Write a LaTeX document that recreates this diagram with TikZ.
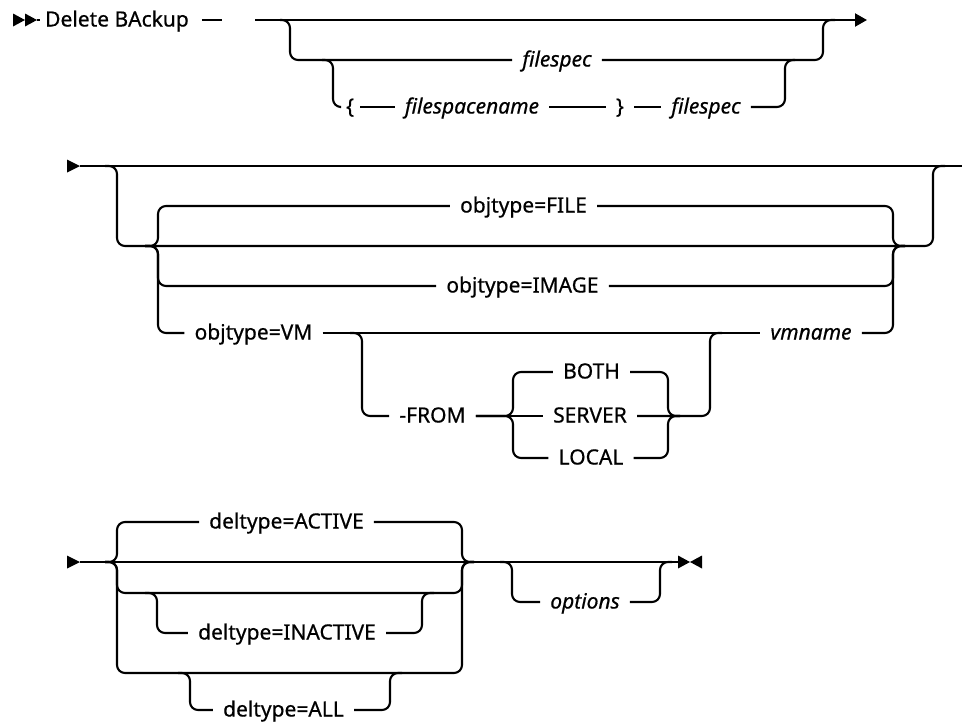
\documentclass[tikz,border=0pt]{standalone}
\usepackage{fontspec}
\setmainfont{Noto Sans}[FakeBold=0.6]
\usetikzlibrary{arrows.meta}

\tikzset{
	rail/.style={black, line width=2.1pt, rounded corners=8pt},
	kw/.style={inner xsep=10pt, inner ysep=0pt, text height=15pt, text depth=2pt, font=\fontsize{21}{25}\selectfont},
	var/.style={kw, font=\fontsize{21}{25}\selectfont\itshape},
}

\begin{document}
\begin{tikzpicture}[x=1pt,y=-1pt]
	\useasboundingbox (0,0) rectangle (962,721);
	% first line
	\fill[black] (13,13.5) -- (25,20) -- (13,26.5) -- cycle;
	\fill[black] (25,13.5) -- (37,20) -- (25,26.5) -- cycle;
	\node[kw, inner xsep=0pt] (delete) at (117,20) {Delete BAckup};
	\draw[rail] (37,20) -- ([xshift=-5pt]delete.west);
	\draw[rail] ([xshift=13pt]delete.east) -- ++(20,0);
	\draw[rail, -{Triangle[length=12pt,width=13pt]}] (255,20) -- (867,20);
	\node[var] (fs1) at (557,60) {filespec};
	\node[kw, inner xsep=6pt] (lbrace) at (350,107) {\{};
	\node[var] (fsname) at (472,107) {filespacename};
	\node[kw] (rbrace) at (620,107) {\}};
	\node[var] (fs2) at (706,107) {filespec};
	\draw[rail] (280,20) -| (290,60) -- (fs1.west);
	\draw[rail] (fs1.east) -| (823,20) -- (835,20);
	\draw[rail] (322,60) -| (333,107) -- (lbrace.west);
	\draw[rail] (lbrace.east) -- (fsname.west);
	\draw[rail] (fsname.east) -- (rbrace.west);
	\draw[rail] (rbrace.east) -- (fs2.west);
	\draw[rail] (fs2.east) -| (785,60) -- (795,60);
	% second line
	\fill[black] (67,159.5) -- (80,166) -- (67,172.5) -- cycle;
	\draw[rail] (80,166) -- (962,166);
	\draw[rail] (105,166) -| (117,246) -| (933,166) -- (945,166);
	\node[kw] (file) at (523.5,206) {objtype=FILE};
	\node[kw] (image) at (522.5,286) {objtype=IMAGE};
	\node[kw] (vm) at (253.5,333) {objtype=VM};
	\node[var] (vmname) at (811,333) {vmname};
	\draw[rail] (145,246) -| (158,206) -- (file.west);
	\draw[rail] (145,246) -| (158,286) -- (image.west);
	\draw[rail] (145,246) -| (158,333) -- (vm.west);
	\draw[rail] (file.east) -| (893,246) -- (905,246);
	\draw[rail] (image.east) -| (893,246) -- (905,246);
	\draw[rail] (vmname.east) -| (893,246) -- (905,246);
	\draw[rail] (vm.east) -- (vmname.west);
	\node[kw] (from) at (432.5,416) {-FROM};
	\node[kw] (both) at (591.5,372) {BOTH};
	\node[kw] (server) at (590,416) {SERVER};
	\node[kw] (local) at (591,458) {LOCAL};
	\draw[rail] (350,333) -| (362,416) -- (from.west);
	\draw[rail] (from.east) -- (server.west);
	\draw[rail] (from.east) -| (513,372) -- (both.west);
	\draw[rail] (from.east) -| (513,458) -- (local.west);
	\draw[rail] (both.east) -| (668,416) -- (680,416);
	\draw[rail] (local.east) -| (668,416) -- (680,416);
	\draw[rail] (server.east) -| (710,333) -- (722,333);
	% third line
	\fill[black] (67,555.5) -- (80,562) -- (67,568.5) -- cycle;
	\draw[rail] (80,562) -- (678,562);
	\node[kw] (active) at (286.5,522) {deltype=ACTIVE};
	\node[kw] (inactive) at (287,633) {deltype=INACTIVE};
	\node[kw] (all) at (283.5,710) {deltype=ALL};
	\draw[rail] (105,562) -| (117,522) -- (active.west);
	\draw[rail] (active.east) -| (462,562) -- (474,562);
	\draw[rail] (105,562) -| (117,593) -| (462,562) -- (474,562);
	\draw[rail] (105,562) -| (117,673) -| (462,562) -- (474,562);
	\draw[rail] (145,593) -| (157,633) -- (inactive.west);
	\draw[rail] (inactive.east) -| (422,593) -- (434,593);
	\draw[rail] (178,673) -| (190,710) -- (all.west);
	\draw[rail] (all.east) -| (390,673) -- (402,673);
	\node[var] (options) at (585,602) {options};
	\draw[rail] (500,562) -| (512,602) -- (options.west);
	\draw[rail] (options.east) -| (660,562) -- (672,562);
	\fill[black] (678,555.5) -- (690,562) -- (678,568.5) -- cycle;
	\fill[black] (702,555.5) -- (690,562) -- (702,568.5) -- cycle;
\end{tikzpicture}
\end{document}
